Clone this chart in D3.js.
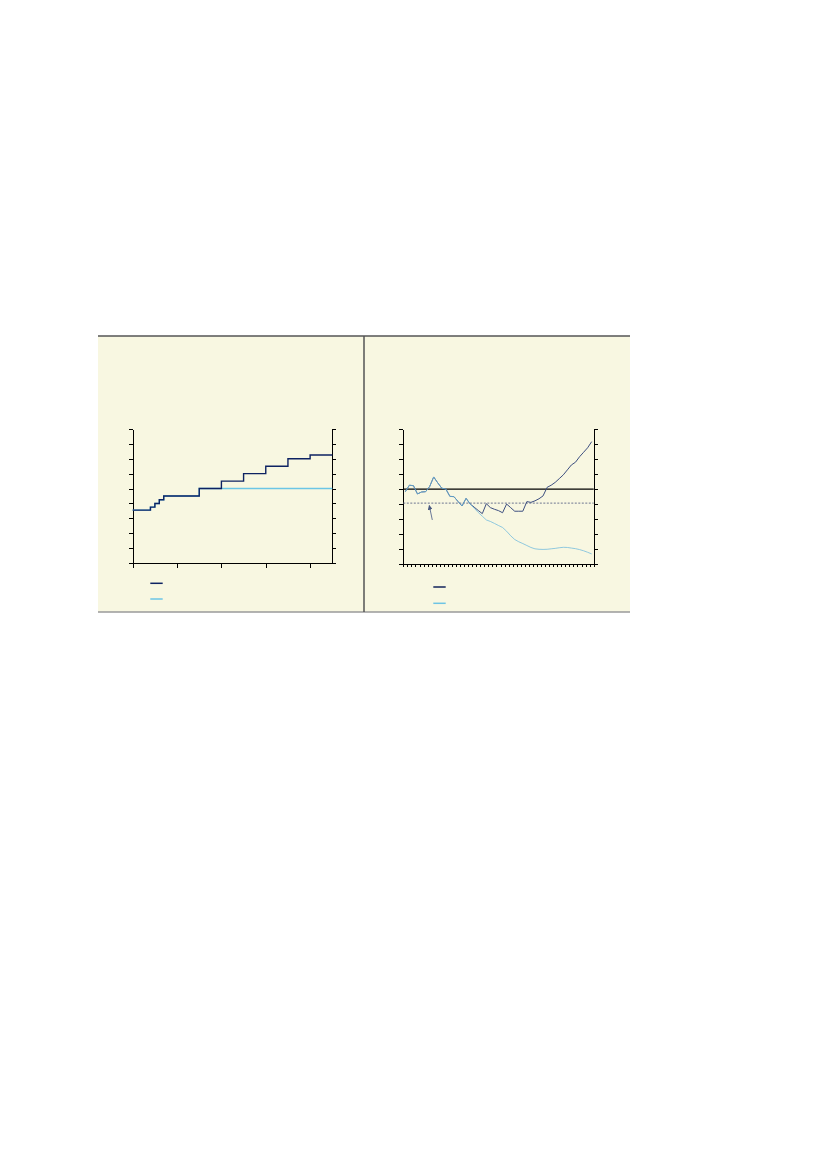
<!DOCTYPE html>
<html lang="en">
<head>
    <meta charset="UTF-8">
    <title>Two panel chart</title>
    <script src="https://d3js.org/d3.v7.min.js"></script>
    <style>
        body {
            margin: 0;
            background: #ffffff;
        }
        svg {
            display: block;
        }
        .axis path, .axis line {
            stroke: #000;
            stroke-width: 1;
            shape-rendering: crispEdges;
        }
    </style>
</head>
<body>
<div id="chart"></div>
<script>
    // Left panel: step series (x in years from start, y in units)
    const stepYears = [0, 4, 5, 6, 7, 15, 20, 25, 30, 35, 40, 45];
    const stepRising = [3.55, 3.75, 4.0, 4.25, 4.5, 5.0, 5.5, 6.0, 6.5, 7.0, 7.25, 7.25];
    const stepFlat = [3.55, 3.75, 4.0, 4.25, 4.5, 5.0, 5.0, 5.0, 5.0, 5.0, 5.0, 5.0];
    const leftXTicks = [0, 10, 20, 30, 40];
    const leftYTicks = [0, 1, 2, 3, 4, 5, 6, 7, 8, 9];

    // Right panel: 47 periods, two series sharing the first part
    const periods = ["p0","p1","p2","p3","p4","p5","p6","p7","p8","p9","p10","p11","p12","p13","p14","p15","p16",
        "p17","p18","p19","p20","p21","p22","p23","p24","p25","p26","p27","p28","p29","p30","p31","p32","p33",
        "p34","p35","p36","p37","p38","p39","p40","p41","p42","p43","p44","p45","p46"];
    const seriesDark = [4.83, 5.26, 5.23, 4.68, 4.81, 4.83, 5.17, 5.81, 5.42, 5.06, 5.01, 4.52, 4.50, 4.18, 3.88, 4.39, 4.01,
        3.80, 3.58, 3.37, 4.03, 3.77, 3.66, 3.57, 3.43, 4.01, 3.77, 3.53, 3.53, 3.53, 4.17, 4.12, 4.22, 4.36,
        4.55, 5.12, 5.26, 5.45, 5.70, 5.95, 6.28, 6.61, 6.79, 7.15, 7.45, 7.75, 8.16];
    const seriesLight = [4.83, 5.26, 5.23, 4.68, 4.81, 4.83, 5.17, 5.81, 5.42, 5.06, 5.01, 4.52, 4.50, 4.18, 3.88, 4.39, 4.01,
        3.73, 3.45, 3.20, 2.95, 2.85, 2.72, 2.58, 2.45, 2.20, 1.90, 1.65, 1.50, 1.38, 1.25, 1.12, 1.03, 1.00,
        0.99, 1.00, 1.03, 1.06, 1.10, 1.13, 1.12, 1.08, 1.04, 0.98, 0.90, 0.80, 0.69];
    const rightYTicks = [0, 1, 2, 3, 4, 5, 6, 7, 8, 9];
    const baseLevel = 5;
    const refLevel = 4.07;
    // arrow annotation: [tail, head] as [period position, value]
    const arrowPts = [[7.16, 2.95], [6.42, 3.9]];

    const W = 827, H = 1169;
    const svg = d3.select("#chart").append("svg")
        .attr("width", W)
        .attr("height", H);

    // panel frame
    const frame = {left: 98, right: 630, top: 336, bottom: 612, split: 364};
    svg.append("rect")
        .attr("x", frame.left).attr("y", frame.top)
        .attr("width", frame.right - frame.left).attr("height", frame.bottom - frame.top)
        .attr("fill", "#f8f7e1");
    svg.append("line")
        .attr("x1", frame.left).attr("x2", frame.right)
        .attr("y1", frame.top).attr("y2", frame.top)
        .attr("stroke", "#555").attr("stroke-width", 1.5);
    svg.append("line")
        .attr("x1", frame.left).attr("x2", frame.right)
        .attr("y1", frame.bottom).attr("y2", frame.bottom)
        .attr("stroke", "#9a9a9a").attr("stroke-width", 1.5);
    svg.append("line")
        .attr("x1", frame.split).attr("x2", frame.split)
        .attr("y1", frame.top).attr("y2", frame.bottom)
        .attr("stroke", "#555").attr("stroke-width", 1.5);

    // ---------- left panel ----------
    const xL = d3.scaleLinear().domain([0, 45]).range([132.7, 332.3]);
    const yL = d3.scaleLinear().domain([0, 9]).range([563, 429]);

    svg.append("g").attr("class", "axis")
        .attr("transform", `translate(0,${yL(0)})`)
        .call(d3.axisBottom(xL).tickValues(leftXTicks).tickSize(5).tickSizeOuter(0).tickFormat(""));
    svg.append("g").attr("class", "axis")
        .attr("transform", `translate(${xL(0)},0)`)
        .call(d3.axisLeft(yL).tickValues(leftYTicks).tickSize(4).tickSizeOuter(0).tickFormat(""));
    svg.append("g").attr("class", "axis")
        .attr("transform", `translate(${xL(45)},0)`)
        .call(d3.axisRight(yL).tickValues(leftYTicks).tickSize(4).tickSizeOuter(0).tickFormat(""));

    const stepLine = d3.line()
        .x(d => xL(d[0]))
        .y(d => yL(d[1]))
        .curve(d3.curveStepAfter);

    // flat series first, the rising one covers it where they coincide
    svg.append("path")
        .datum(stepYears.map((x, i) => [x, stepFlat[i]]))
        .attr("d", stepLine)
        .attr("fill", "none")
        .attr("stroke", "#6cc6e6")
        .attr("stroke-width", 1.4);
    svg.append("path")
        .datum(stepYears.map((x, i) => [x, stepRising[i]]))
        .attr("d", stepLine)
        .attr("fill", "none")
        .attr("stroke", "#0d2262")
        .attr("stroke-width", 1.4);

    // legend (left)
    const legL = [["#0d2262", 583.3], ["#6cc6e6", 599]];
    svg.selectAll(".legL").data(legL).enter().append("line")
        .attr("x1", 150.3).attr("x2", 162.7)
        .attr("y1", d => d[1]).attr("y2", d => d[1])
        .attr("stroke", d => d[0]).attr("stroke-width", 1.5);

    // ---------- right panel ----------
    const xR = d3.scaleLinear().domain([0, periods.length]).range([403.3, 593.7]);
    const yR = d3.scaleLinear().domain([0, 9]).range([564.3, 429]);

    svg.append("g").attr("class", "axis")
        .attr("transform", `translate(0,${yR(0)})`)
        .call(d3.axisBottom(xR).tickValues(d3.range(0, periods.length + 1)).tickSize(2.5).tickSizeOuter(0).tickFormat(""));
    svg.append("g").attr("class", "axis")
        .attr("transform", `translate(${xR(0)},0)`)
        .call(d3.axisLeft(yR).tickValues(rightYTicks).tickSize(4).tickSizeOuter(0).tickFormat(""));
    svg.append("g").attr("class", "axis")
        .attr("transform", `translate(${xR(periods.length)},0)`)
        .call(d3.axisRight(yR).tickValues(rightYTicks).tickSize(4).tickSizeOuter(0).tickFormat(""));

    // reference lines
    svg.append("line")
        .attr("x1", xR(0)).attr("x2", xR(periods.length))
        .attr("y1", yR(baseLevel)).attr("y2", yR(baseLevel))
        .attr("stroke", "#000").attr("stroke-width", 1.2);
    svg.append("line")
        .attr("x1", xR(0)).attr("x2", xR(periods.length))
        .attr("y1", yR(refLevel)).attr("y2", yR(refLevel))
        .attr("stroke", "#6d7590").attr("stroke-width", 1)
        .attr("stroke-dasharray", "2,1.5");

    const seriesLine = d3.line()
        .x((d, i) => xR(i + 0.5))
        .y(d => yR(d));

    svg.append("path")
        .datum(seriesDark)
        .attr("d", seriesLine)
        .attr("fill", "none")
        .attr("stroke", "#3d4f80")
        .attr("stroke-width", 1);
    svg.append("path")
        .datum(seriesLight)
        .attr("d", seriesLine)
        .attr("fill", "none")
        .attr("stroke", "#6cb8dc")
        .attr("stroke-opacity", 0.75)
        .attr("stroke-width", 1);

    // arrow annotation
    svg.append("defs").append("marker")
        .attr("id", "arrowhead")
        .attr("viewBox", "0 -3 6 6")
        .attr("refX", 5).attr("refY", 0)
        .attr("markerUnits", "userSpaceOnUse")
        .attr("markerWidth", 5).attr("markerHeight", 5)
        .attr("orient", "auto")
        .append("path")
        .attr("d", "M0,-3L6,0L0,3Z")
        .attr("fill", "#4a5a80");
    svg.append("line")
        .attr("x1", xR(arrowPts[0][0])).attr("y1", yR(arrowPts[0][1]))
        .attr("x2", xR(arrowPts[1][0])).attr("y2", yR(arrowPts[1][1]))
        .attr("stroke", "#6a7898").attr("stroke-width", 1)
        .attr("marker-end", "url(#arrowhead)");

    // legend (right)
    const legR = [["#13235a", 587], ["#6ec4e4", 603.3]];
    svg.selectAll(".legR").data(legR).enter().append("line")
        .attr("x1", 433.3).attr("x2", 445.7)
        .attr("y1", d => d[1]).attr("y2", d => d[1])
        .attr("stroke", d => d[0]).attr("stroke-width", 1.5);
</script>
</body>
</html>
